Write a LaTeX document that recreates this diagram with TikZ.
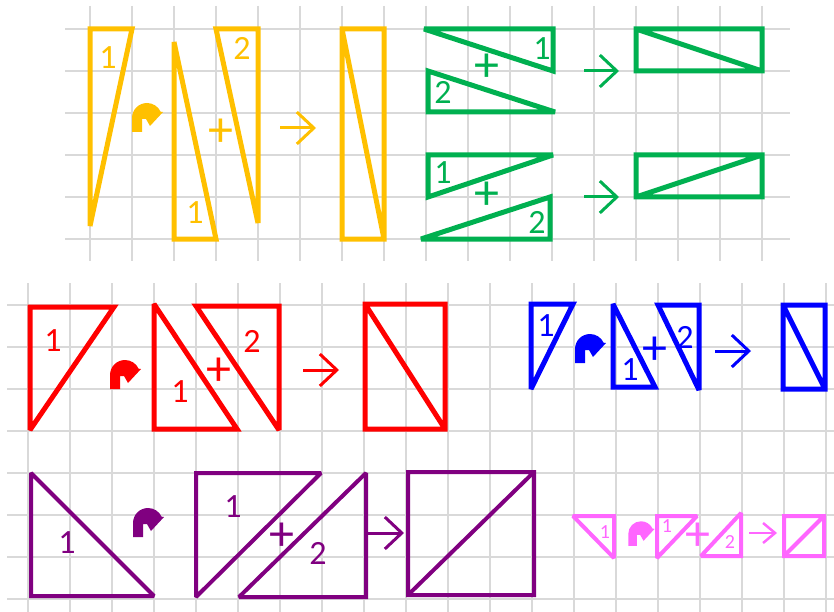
\documentclass[tikz,border=0pt]{standalone}
\usepackage{fontspec}
\setmainfont{Carlito}
\usetikzlibrary{arrows.meta}
\definecolor{gridgray}{HTML}{D9D9D9}
\definecolor{amber}{HTML}{FFC000}
\definecolor{leaf}{HTML}{00B050}
\definecolor{scarlet}{HTML}{FF0000}
\definecolor{royal}{HTML}{0000FF}
\definecolor{plum}{HTML}{800080}
\definecolor{orchid}{HTML}{FF66FF}

\begin{document}
\begin{tikzpicture}[
    x=1pt, y=-1pt,
    gridline/.style={draw=gridgray, line width=1.5pt},
    piece/.style={line width=5pt, miter limit=2.5},
    thinpiece/.style={line width=4pt, miter limit=2.5},
    num/.style={inner sep=0pt, font=\fontsize{34}{34}\selectfont},
    smallnum/.style={inner sep=0pt, font=\fontsize{20}{20}\selectfont},
    plus/.style={inner sep=0pt, font=\fontsize{50}{50}\selectfont},
    goes/.style={line width=3pt, -{Straight Barb[length=17pt,width=32pt]}},
    smallgoes/.style={line width=2.5pt, -{Straight Barb[length=12pt,width=20pt]}},
    rotmark/.pic={
      \fill (-15,14) -- (-15,0) arc[start angle=180,end angle=335,radius=15]
        -- (16,-6) -- (3,8) -- (-1,1) -- (-5,1) -- (-5,14) -- cycle;
    }
  ]
  \useasboundingbox (0,0) rectangle (834,612);

  % squared paper, upper sheet and lower sheet
  \foreach \gx in {0,...,16}
    \draw[gridline] ({90+42*\gx},6) -- ({90+42*\gx},261);
  \foreach \gy in {0,...,5}
    \draw[gridline] (65,{29+42*\gy}) -- (790,{29+42*\gy});
  \foreach \gx in {0,...,19}
    \draw[gridline] ({28+42*\gx},283) -- ({28+42*\gx},612);
  \foreach \gy in {0,...,7}
    \draw[gridline] (7,{305+42*\gy}) -- (834,{305+42*\gy});

  % yellow: tall thin halves
  \draw[piece, amber] (90,29) -- (132,29) -- (90,226) -- cycle;
  \node[num, amber] (ya) at (108,58) {1};
  \pic[color=amber] at (147,118) {rotmark};
  \draw[piece, amber] (174,42) -- (216,239) -- (174,239) -- cycle;
  \node[num, amber] (yb) at (195,213) {1};
  \node[plus, amber] (yplus) at (221,133) {+};
  \draw[piece, amber] (216,29) -- (258,29) -- (258,223) -- cycle;
  \node[num, amber] (yc) at (242,48) {2};
  \coordinate (yfrom) at (280,128);
  \coordinate (yto) at (316,128);
  \draw[goes, amber] (yfrom) -- (yto);
  \draw[piece, amber] (342,29) rectangle (384,239) (342,29) -- (384,239);

  % green: two flat pairs
  \draw[piece, leaf] (424,29) -- (553,29) -- (553,71) -- cycle;
  \node[num, leaf] (ga) at (542,49) {1};
  \draw[piece, leaf] (428,71) -- (428,112) -- (555,112) -- cycle;
  \node[num, leaf] (gb) at (443,92) {2};
  \node[plus, leaf] (gplus) at (487,68) {+};
  \coordinate (gfrom) at (584,71);
  \coordinate (gto) at (619,71);
  \draw[goes, leaf] (gfrom) -- (gto);
  \draw[piece, leaf] (636,29) rectangle (762,71) (636,29) -- (762,71);

  \draw[piece, leaf] (428,155) -- (553,155) -- (428,197) -- cycle;
  \node[num, leaf] (gc) at (443,173) {1};
  \node[plus, leaf] (gplustwo) at (487,196) {+};
  \draw[piece, leaf] (421,239) -- (550,239) -- (550,197) -- cycle;
  \node[num, leaf] (gd) at (537,222) {2};
  \coordinate (gfromtwo) at (584,197);
  \coordinate (gtotwo) at (619,197);
  \draw[goes, leaf] (gfromtwo) -- (gtotwo);
  \draw[piece, leaf] (636,155) rectangle (762,197) (636,197) -- (762,155);

  % red
  \draw[piece, scarlet] (30,307) -- (114,307) -- (30,430) -- cycle;
  \node[num, scarlet] (ra) at (53,341) {1};
  \pic[color=scarlet] at (125,375) {rotmark};
  \draw[piece, scarlet] (154,304) -- (237,429) -- (154,429) -- cycle;
  \node[num, scarlet] (rb) at (180,392) {1};
  \node[plus, scarlet] (rplus) at (219,372) {+};
  \draw[piece, scarlet] (196,306) -- (279,306) -- (279,430) -- cycle;
  \node[num, scarlet] (rc) at (252,341) {2};
  \coordinate (rfrom) at (303,370);
  \coordinate (rto) at (339,370);
  \draw[goes, scarlet] (rfrom) -- (rto);
  \draw[piece, scarlet] (365,304) rectangle (445,429) (365,304) -- (445,429);

  % blue
  \draw[piece, royal] (531,304) -- (573,304) -- (531,389) -- cycle;
  \node[num, royal] (ba) at (546,326) {1};
  \pic[color=royal] at (590,349) {rotmark};
  \draw[piece, royal] (613,304) -- (655,387) -- (613,387) -- cycle;
  \node[num, royal] (bb) at (630,370) {1};
  \node[plus, royal] (bplus) at (655,351) {+};
  \draw[piece, royal] (658,305) -- (699,305) -- (699,390) -- cycle;
  \node[num, royal] (bc) at (685,337) {2};
  \coordinate (bfrom) at (715,351);
  \coordinate (bto) at (751,351);
  \draw[goes, royal] (bfrom) -- (bto);
  \draw[piece, royal] (783,305) rectangle (825,389) (783,305) -- (825,389);

  % purple
  \draw[thinpiece, plum] (31,473) -- (154,596) -- (31,596) -- cycle;
  \node[num, plum] (pa) at (67,543) {1};
  \pic[color=plum] at (148,523) {rotmark};
  \draw[thinpiece, plum] (196,473) -- (321,473) -- (196,597) -- cycle;
  \node[num, plum] (pb) at (233,507) {1};
  \node[plus, plum] (pplus) at (282,537) {+};
  \draw[thinpiece, plum] (366,473) -- (366,597) -- (239,597) -- cycle;
  \node[num, plum] (pc) at (318,553) {2};
  \coordinate (pfrom) at (368,533);
  \coordinate (pto) at (404,533);
  \draw[goes, plum] (pfrom) -- (pto);
  \draw[thinpiece, plum] (408,472) rectangle (534,595) (408,595) -- (534,472);

  % pink, small copy
  \draw[thinpiece, orchid] (573,516) -- (614,516) -- (614,558) -- cycle;
  \node[smallnum, orchid] (ka) at (605,532) {1};
  \pic[color=orchid, scale=0.85] at (641,534) {rotmark};
  \draw[thinpiece, orchid] (657,516) -- (697,516) -- (657,558) -- cycle;
  \node[smallnum, orchid] (kb) at (667,526) {1};
  \node[plus, orchid] (kplus) at (698,537) {+};
  \draw[thinpiece, orchid] (741,513) -- (741,556) -- (701,556) -- cycle;
  \node[smallnum, orchid] (kc) at (730,542) {2};
  \coordinate (kfrom) at (749,533);
  \coordinate (kto) at (777,533);
  \draw[smallgoes, orchid] (kfrom) -- (kto);
  \draw[thinpiece, orchid] (784,516) rectangle (824,556) (784,556) -- (824,516);
\end{tikzpicture}
\end{document}
